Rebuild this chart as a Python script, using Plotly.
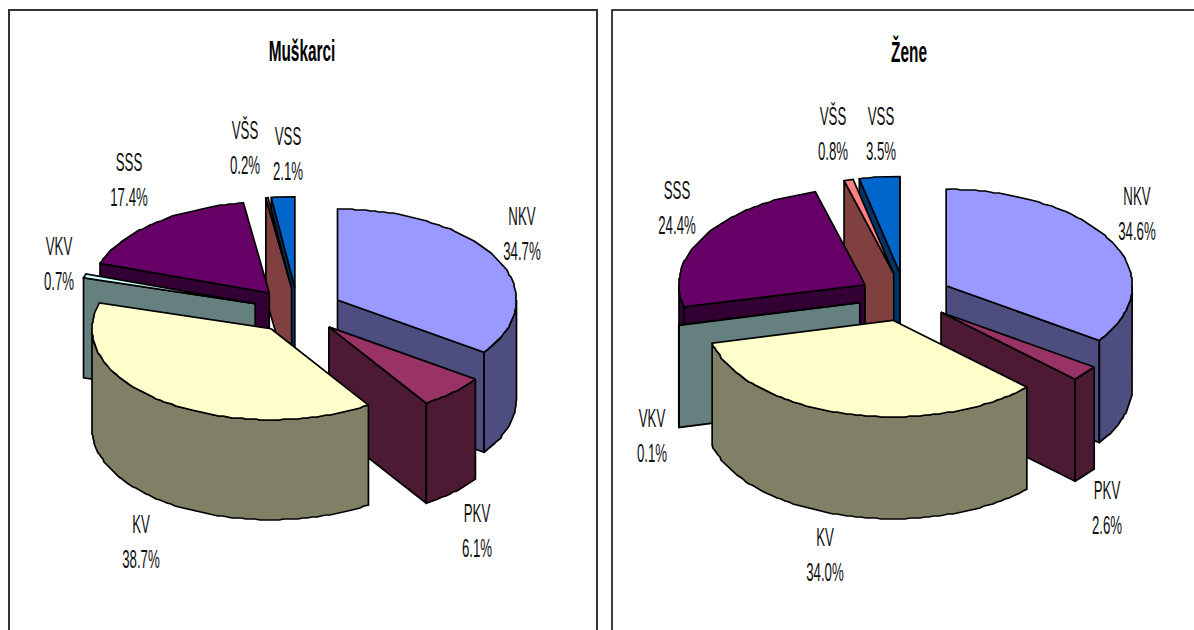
import math
import plotly.graph_objects as go

CATEGORIES = ["NKV", "PKV", "KV", "VKV", "SSS", "VŠS", "VSS"]
MEN = [34.7, 6.1, 38.7, 0.7, 17.4, 0.2, 2.1]
WOMEN = [34.6, 2.6, 34.0, 0.1, 24.4, 0.8, 3.5]
TITLES = ["Muškarci", "Žene"]

TOP_COLORS = ["#9999FF", "#993366", "#FFFFCC", "#CCFFFF", "#660066", "#FF8080", "#0066CC"]
SIDE_COLORS = ["#4D4D80", "#4D1A33", "#808066", "#668080", "#330033", "#804040", "#003366"]
PAINT_ORDER = [6, 5, 4, 3, 0, 1, 2]

GEOM = [
    dict(cx=297.8, cy=310.5, rx=179, ry=91, depth=100),
    dict(cx=905, cy=297, rx=186, ry=96.5, depth=102),
]
EXPLODE = 0.25
LABEL_POS = [
    [(522, 219), (477, 516), (141, 527), (59, 249), (129, 165), (245, 133), (288, 139)],
    [(1137, 199), (1107, 493), (825, 540), (652, 421), (677, 193), (833, 119), (881, 119)],
]
LINE_GAP = 34.5
TITLE_POS = [(302, 54), (909, 55)]

fig = go.Figure()


def poly(xs, ys, fill):
    fig.add_trace(go.Scatter(
        x=xs, y=ys, mode="lines", fill="toself", fillcolor=fill,
        line=dict(color="black", width=1.7), hoverinfo="skip", showlegend=False))


def draw_pie(values, g):
    total = sum(values)
    edges = [0.0]
    for v in values:
        edges.append(edges[-1] + v / total * 360)
    for i in PAINT_ORDER:
        a0, a1 = edges[i], edges[i + 1]
        mid = math.radians((a0 + a1) / 2)
        ax = g["cx"] + EXPLODE * g["rx"] * math.sin(mid)
        ay = g["cy"] - EXPLODE * g["ry"] * math.cos(mid)
        d = g["depth"]

        def pt(deg):
            t = math.radians(deg)
            return ax + g["rx"] * math.sin(t), ay - g["ry"] * math.cos(t)

        def arc(s, e):
            n = max(2, int(abs(e - s) / 1.5) + 1)
            out = []
            for k in range(n):
                x, y = pt(s + (e - s) * k / (n - 1))
                if 0 < k < n - 1:
                    x, y = round(x), round(y)
                out.append((x, y))
            return out

        # cut faces
        if math.sin(math.radians(a1)) > 0:
            x, y = pt(a1)
            poly([ax, x, x, ax, ax], [ay, y, y + d, ay + d, ay], SIDE_COLORS[i])
        if math.sin(math.radians(a0)) < 0:
            x, y = pt(a0)
            poly([ax, x, x, ax, ax], [ay, y, y + d, ay + d, ay], SIDE_COLORS[i])
        # outer wall
        s, e = max(a0, 90), min(a1, 270)
        if e > s:
            p = arc(s, e)
            xs = [q[0] for q in p] + [q[0] for q in reversed(p)]
            ys = [q[1] for q in p] + [q[1] + d for q in reversed(p)]
            poly(xs + xs[:1], ys + ys[:1], SIDE_COLORS[i])
        # top
        p = arc(a0, a1)
        poly([ax] + [q[0] for q in p] + [ax], [ay] + [q[1] for q in p] + [ay], TOP_COLORS[i])


for vals, geom in zip([MEN, WOMEN], GEOM):
    draw_pie(vals, geom)

for vals, pos in zip([MEN, WOMEN], LABEL_POS):
    xs, ys, txt = [], [], []
    for name, v, (x, y) in zip(CATEGORIES, vals, pos):
        xs += [x, x]
        ys += [y, y + LINE_GAP]
        txt += [name, f"{v:.1f}%"]
    fig.add_trace(go.Scatter(
        x=xs, y=ys, text=txt, mode="text", textposition="middle center",
        textfont=dict(family="Liberation Sans", size=25, color="#111"),
        hoverinfo="skip", showlegend=False))

for t, (x, y) in zip(TITLES, TITLE_POS):
    fig.add_trace(go.Scatter(
        x=[x], y=[y], text=[f"<b>{t}</b>"], mode="text", textposition="middle center",
        textfont=dict(family="Liberation Sans", size=29, color="black"),
        hoverinfo="skip", showlegend=False))

shapes = []
for x0, x1, col, w in [(9, 597, "#333", 2), (612, 1200, "black", 1.5)]:
    shapes.append(dict(type="rect", xref="x", yref="y", x0=x0, x1=x1, y0=10, y1=640,
                       line=dict(color=col, width=w), fillcolor="rgba(0,0,0,0)", layer="below"))

fig.update_layout(
    width=1194, height=630, margin=dict(l=0, r=0, t=0, b=0),
    paper_bgcolor="white", plot_bgcolor="white", shapes=shapes,
    xaxis=dict(range=[0, 1194], visible=False, fixedrange=True),
    yaxis=dict(range=[630, 0], visible=False, fixedrange=True),
)
SQUEEZE = """
document.body.style.margin='0';
var gd=document.getElementById('{plot_id}');
function squeeze(){
  gd.querySelectorAll('.textpoint text').forEach(function(t){
    var x=parseFloat(t.getAttribute('x'));
    t.setAttribute('transform','translate('+x+',0) scale(0.53,1) translate('+(-x)+',0)');
  });
}
squeeze();
gd.on('plotly_afterplot',squeeze);
"""
fig.write_html("out.html", post_script=SQUEEZE, config={"displayModeBar": False})
